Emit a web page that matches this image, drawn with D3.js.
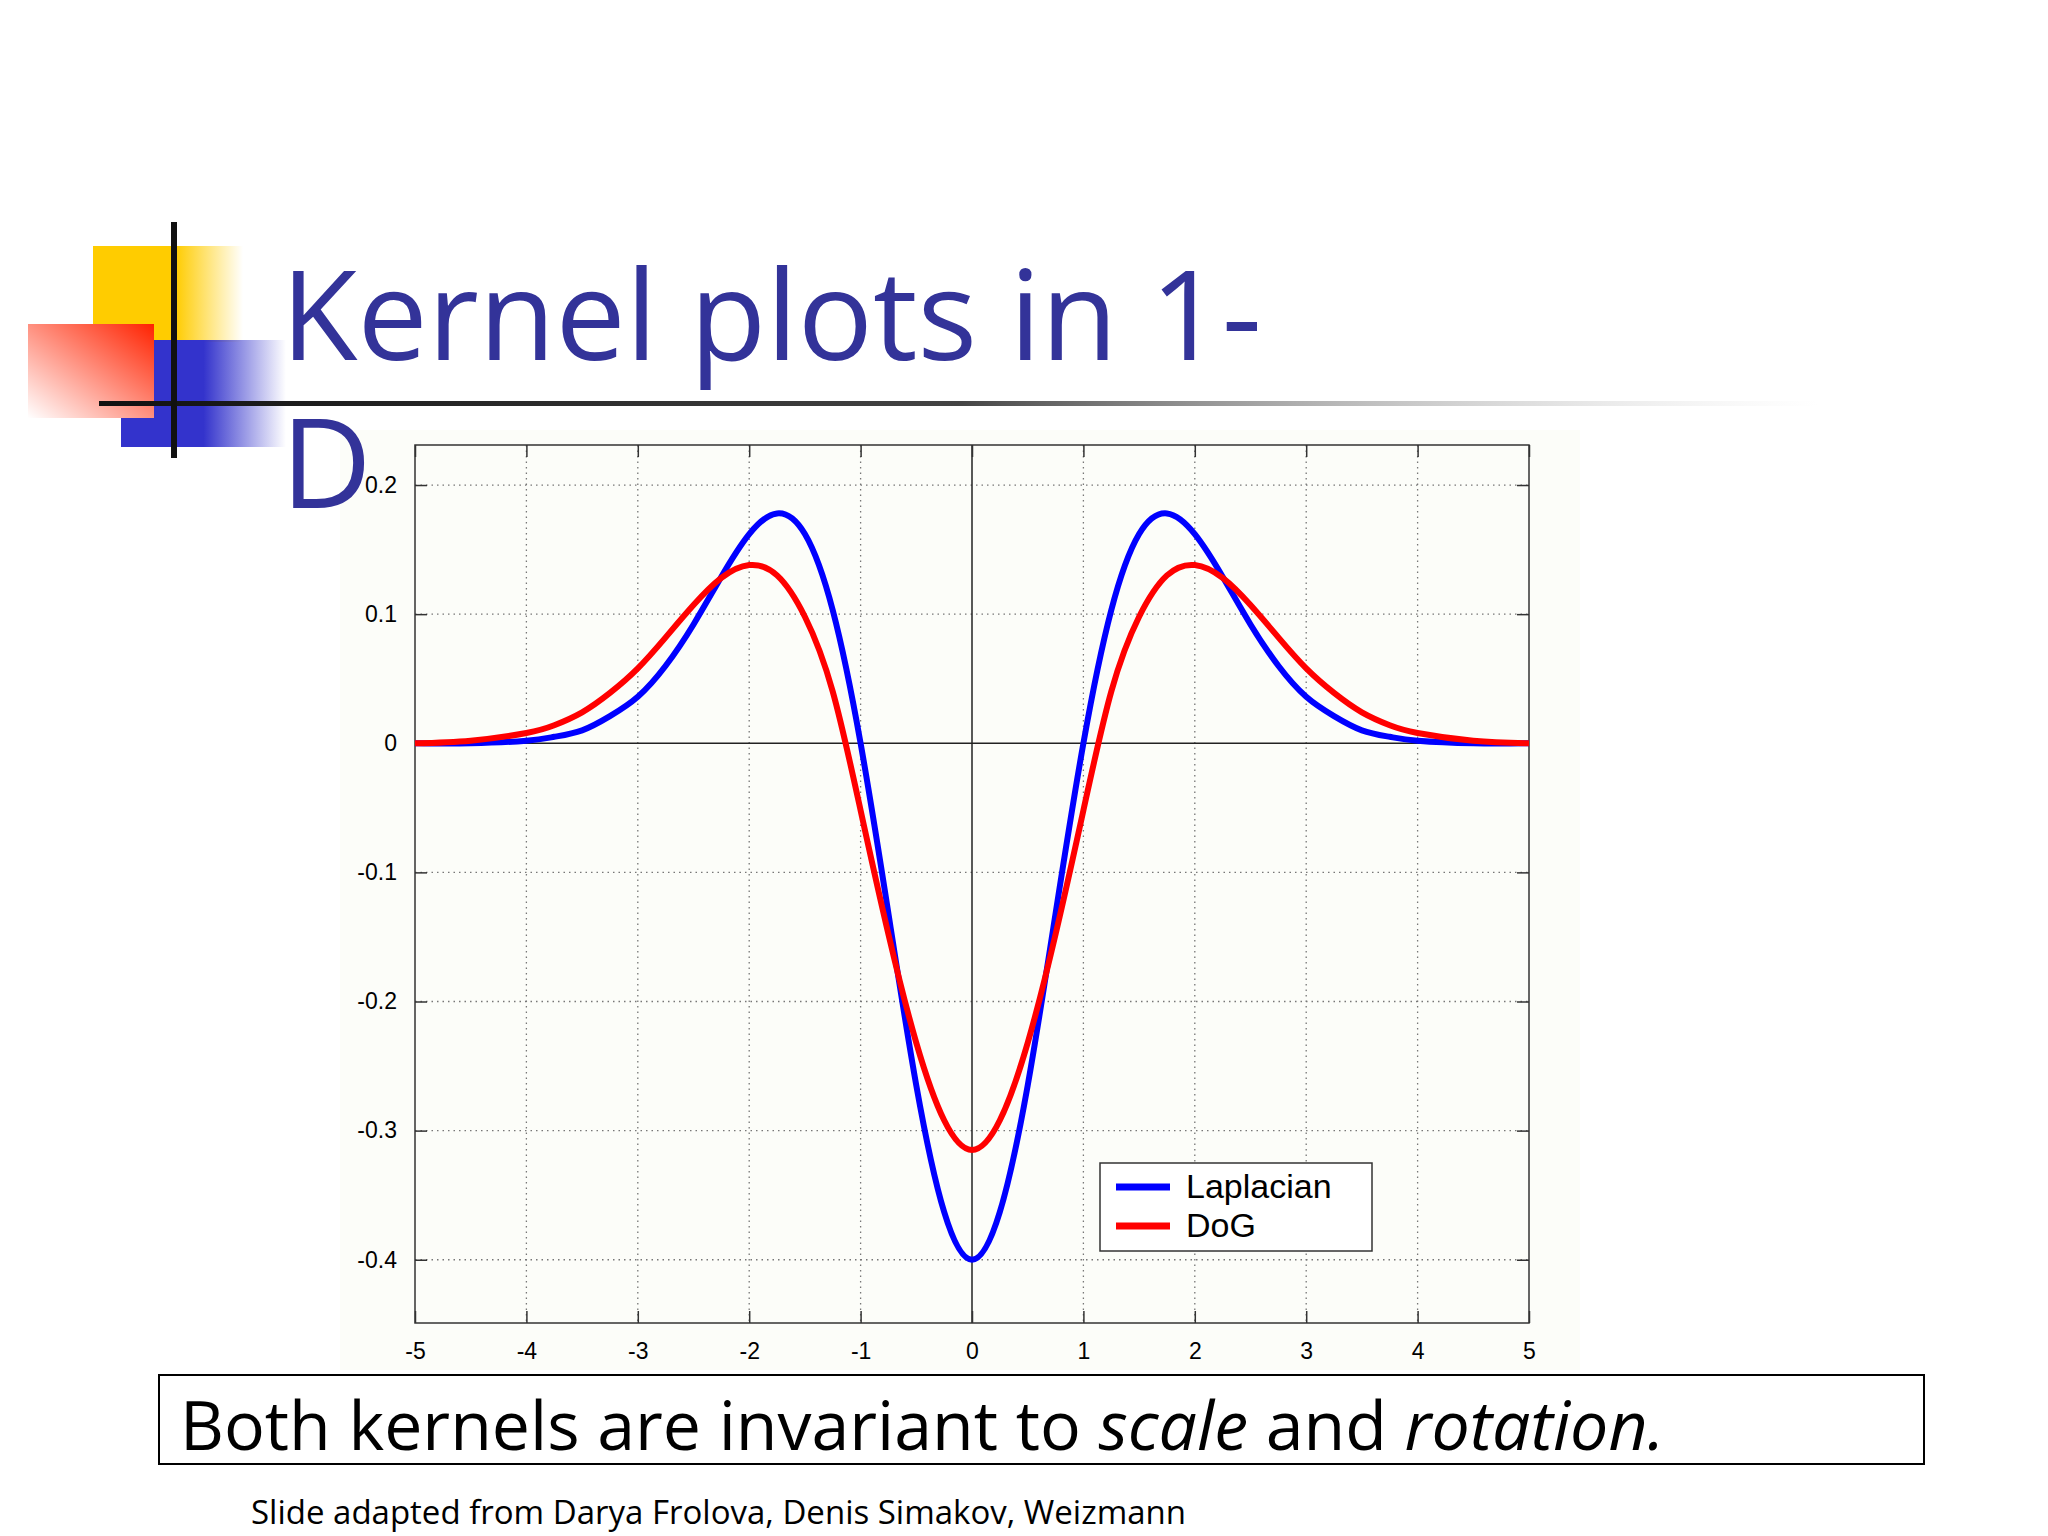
<!DOCTYPE html>
<html><head><meta charset="utf-8">
<script src="https://cdn.jsdelivr.net/npm/d3@7"></script>
<style>body{margin:0;background:#fff}svg{display:block}</style>
</head><body>
<svg width="2048" height="1536"></svg>
<script>
const svg = d3.select("svg");

// half of each kernel (x >= 0), mirrored for x < 0
const xHalf =     [0, 0.25, 0.5, 0.75, 1.0, 1.25, 1.5, 1.75, 2.0, 2.25, 2.5, 2.75, 3.0, 3.25, 3.5, 3.75, 4.0, 4.5, 5.0];
const laplacian = [-0.4, -0.363, -0.265, -0.132, 0, 0.103, 0.162, 0.178, 0.162, 0.129, 0.092, 0.060, 0.036, 0.021, 0.010, 0.005, 0.002, 0.0, 0.0];
const dog =       [-0.315, -0.292, -0.232, -0.148, -0.052, 0.04, 0.098, 0.13, 0.138, 0.128, 0.107, 0.082, 0.058, 0.039, 0.024, 0.014, 0.008, 0.002, 0.0];
const xTicks = [-5, -4, -3, -2, -1, 0, 1, 2, 3, 4, 5];
const yTicks = [0.2, 0.1, 0, -0.1, -0.2, -0.3, -0.4];
const legendNames = ["Laplacian", "DoG"];
const colors = ["#0000ff", "#ff0000"];

const full = ys => {
  const pts = [];
  for (let i = xHalf.length - 1; i > 0; i--) pts.push([-xHalf[i], ys[i]]);
  xHalf.forEach((x, i) => pts.push([x, ys[i]]));
  return pts;
};
const hy = s => String(s).replace("\u2212", "-");

// ---- slide decoration ----
const defs = svg.append("defs");
const lg = (id, x1, y1, x2, y2, stops) => {
  const g = defs.append("linearGradient").attr("id", id)
    .attr("x1", x1).attr("y1", y1).attr("x2", x2).attr("y2", y2);
  stops.forEach(s => g.append("stop").attr("offset", s[0]).attr("stop-color", s[1]).attr("stop-opacity", s[2]));
};
lg("gy", 0, 0, 1, 0, [[0, "#ffcc00", 1], [0.55, "#ffcc00", 1], [1, "#ffcc00", 0]]);
lg("gb", 0, 0, 1, 0, [[0, "#3333cc", 1], [0.5, "#3333cc", 1], [1, "#3333cc", 0]]);
lg("gr", 1, 0, 0, 1, [[0, "#ff2200", 1], [1, "#ff2200", 0]]);
lg("gl", 0, 0, 1, 0, [[0, "#111", 1], [0.5, "#444", 1], [1, "#ccc", 0]]);

svg.append("rect").attr("x", 93).attr("y", 246).attr("width", 150).attr("height", 96).attr("fill", "url(#gy)");
svg.append("rect").attr("x", 121).attr("y", 340).attr("width", 165).attr("height", 107).attr("fill", "url(#gb)");
svg.append("rect").attr("x", 28).attr("y", 324).attr("width", 126).attr("height", 94).attr("fill", "#fff");
svg.append("rect").attr("x", 28).attr("y", 324).attr("width", 126).attr("height", 94).attr("fill", "url(#gr)");
svg.append("rect").attr("x", 99).attr("y", 401).attr("width", 1720).attr("height", 5).attr("fill", "url(#gl)");
svg.append("rect").attr("x", 171).attr("y", 222).attr("width", 6).attr("height", 236).attr("fill", "#111");

// ---- plot ----
svg.append("rect").attr("x", 340).attr("y", 430).attr("width", 1240).attr("height", 940).attr("fill", "#fcfdf9");
const L = 415, R = 1529, T = 445, B = 1323;
const x = d3.scaleLinear().domain([-5, 5]).range([L, R]);
const y = d3.scaleLinear().domain([-0.449, 0.231]).range([B, T]);
const g = svg.append("g");

g.selectAll(".gx").data(xTicks.filter(d => d > -5 && d < 5 && d !== 0)).join("line")
  .attr("x1", d => x(d)).attr("x2", d => x(d)).attr("y1", T).attr("y2", B)
  .attr("stroke", "#777").attr("stroke-width", 1.3).attr("stroke-dasharray", "1.5,4");
g.selectAll(".gy").data(yTicks.filter(d => d !== 0)).join("line")
  .attr("y1", d => y(d)).attr("y2", d => y(d)).attr("x1", L).attr("x2", R)
  .attr("stroke", "#777").attr("stroke-width", 1.3).attr("stroke-dasharray", "1.5,4");
g.append("line").attr("x1", x(0)).attr("x2", x(0)).attr("y1", T).attr("y2", B).attr("stroke", "#222").attr("stroke-width", 1.5);
g.append("line").attr("y1", y(0)).attr("y2", y(0)).attr("x1", L).attr("x2", R).attr("stroke", "#222").attr("stroke-width", 1.5);

const axFont = g => g.attr("font-family", "Liberation Sans").attr("font-size", 23);
const xb = g.append("g").attr("transform", `translate(0,${B})`)
  .call(d3.axisBottom(x).tickValues(xTicks).tickSize(-12).tickPadding(20).tickFormat(d => hy(d))).call(axFont);
const xt = g.append("g").attr("transform", `translate(0,${T})`)
  .call(d3.axisTop(x).tickValues(xTicks).tickSize(-12).tickFormat(""));
const yl = g.append("g").attr("transform", `translate(${L},0)`)
  .call(d3.axisLeft(y).tickValues(yTicks).tickSize(-12).tickPadding(18).tickFormat(d => d === 0 ? "0" : hy(d3.format(".1f")(d)))).call(axFont);
const yr = g.append("g").attr("transform", `translate(${R},0)`)
  .call(d3.axisRight(y).tickValues(yTicks).tickSize(-12).tickFormat(""));
[xb, xt, yl, yr].forEach(a => {
  a.select(".domain").remove();
  a.selectAll("line").attr("stroke", "#333").attr("stroke-width", 1.5);
  a.selectAll("text").attr("fill", "#000");
});
g.append("rect").attr("x", L).attr("y", T).attr("width", R - L).attr("height", B - T)
  .attr("fill", "none").attr("stroke", "#333").attr("stroke-width", 1.5);

const line = d3.line().x(d => x(d[0])).y(d => y(d[1])).curve(d3.curveNatural);
g.append("path").attr("d", line(full(laplacian))).attr("fill", "none").attr("stroke", colors[0]).attr("stroke-width", 6);
g.append("path").attr("d", line(full(dog))).attr("fill", "none").attr("stroke", colors[1]).attr("stroke-width", 6);

// legend
const lgd = g.append("g").attr("transform", "translate(1100,1163)");
lgd.append("rect").attr("width", 272).attr("height", 88).attr("fill", "#fff").attr("stroke", "#333").attr("stroke-width", 1.5);
legendNames.forEach((n, i) => {
  lgd.append("line").attr("x1", 16).attr("x2", 70).attr("y1", 24 + i * 39).attr("y2", 24 + i * 39)
    .attr("stroke", colors[i]).attr("stroke-width", 7);
  lgd.append("text").attr("x", 86).attr("y", 35 + i * 39).attr("font-family", "Liberation Sans")
    .attr("font-size", 34).text(n);
});

// title over the plot image
svg.append("text").attr("x", 281).attr("y", 360).attr("font-family", "Open Sans")
  .attr("font-size", 125).attr("fill", "#333399").text("Kernel plots in 1-");
svg.append("text").attr("x", 281).attr("y", 508).attr("font-family", "Open Sans")
  .attr("font-size", 125).attr("fill", "#333399").text("D");

// caption box
svg.append("rect").attr("x", 159).attr("y", 1375).attr("width", 1765).attr("height", 89)
  .attr("fill", "#fff").attr("stroke", "#000").attr("stroke-width", 2);
const cap = svg.append("text").attr("x", 180).attr("y", 1450).attr("font-family", "Open Sans").attr("font-size", 68);
cap.append("tspan").text("Both kernels are invariant to ");
cap.append("tspan").attr("font-style", "italic").text("scale");
cap.append("tspan").text(" and ");
cap.append("tspan").attr("font-style", "italic").text("rotation.");

svg.append("text").attr("x", 251).attr("y", 1524).attr("font-family", "Open Sans").attr("font-size", 33)
  .text("Slide adapted from Darya Frolova, Denis Simakov, Weizmann");
</script>
</body></html>
